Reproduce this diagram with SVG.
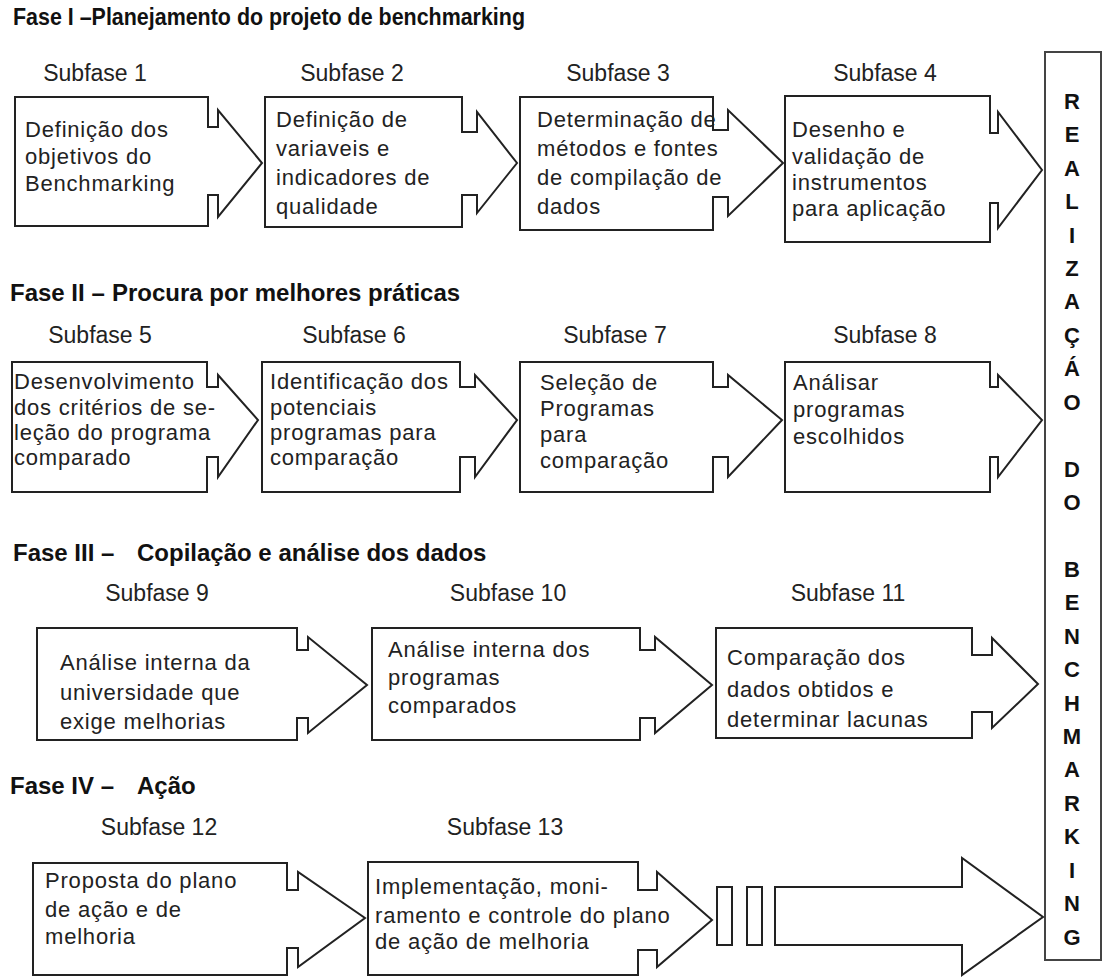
<svg xmlns="http://www.w3.org/2000/svg" width="1105" height="977" viewBox="0 0 1105 977">
<style>
.bg{fill:#ffffff}
.box{fill:#ffffff;stroke:#222;stroke-width:2;stroke-linejoin:miter}
.t{font-family:"Liberation Sans",Arial,sans-serif;font-size:22px;letter-spacing:0.8px;fill:#222}
.s{font-family:"Liberation Sans",Arial,sans-serif;font-size:23px;fill:#222;text-anchor:middle}
.h{font-family:"Liberation Sans",Arial,sans-serif;font-size:24px;font-weight:bold;fill:#111}
.v{font-family:"Liberation Sans",Arial,sans-serif;font-size:22px;font-weight:bold;fill:#111;text-anchor:middle}
.side{fill:#ffffff;stroke:#444;stroke-width:2}
</style>
<rect class="bg" x="0" y="0" width="1105" height="977"/>

<g id="titles">
<text class="h" x="13" y="25" textLength="512" lengthAdjust="spacingAndGlyphs">Fase I –Planejamento do projeto de benchmarking</text>
<text class="h" x="10" y="301">Fase II –</text>
<text class="h" x="112" y="301">Procura por melhores práticas</text>
<text class="h" x="13" y="561">Fase III –</text>
<text class="h" x="137" y="561">Copilação e análise dos dados</text>
<text class="h" x="10" y="794">Fase IV –</text>
<text class="h" x="137" y="794">Ação</text>
</g>

<g id="labels">
<text class="s" x="95" y="81">Subfase 1</text>
<text class="s" x="352" y="81">Subfase 2</text>
<text class="s" x="618" y="81">Subfase 3</text>
<text class="s" x="885" y="81">Subfase 4</text>
<text class="s" x="100" y="343">Subfase 5</text>
<text class="s" x="354" y="343">Subfase 6</text>
<text class="s" x="615" y="343">Subfase 7</text>
<text class="s" x="885" y="343">Subfase 8</text>
<text class="s" x="157" y="601">Subfase 9</text>
<text class="s" x="508" y="601">Subfase 10</text>
<text class="s" x="848" y="601">Subfase 11</text>
<text class="s" x="159" y="835">Subfase 12</text>
<text class="s" x="505" y="835">Subfase 13</text>
</g>

<g id="realizacao">
<rect class="side" x="1045" y="52" width="56" height="908"/>
<text class="v" x="1072" y="109">R</text>
<text class="v" x="1072" y="142">E</text>
<text class="v" x="1072" y="176">A</text>
<text class="v" x="1072" y="209">L</text>
<text class="v" x="1072" y="243">I</text>
<text class="v" x="1072" y="276">Z</text>
<text class="v" x="1072" y="309">A</text>
<text class="v" x="1072" y="343">Ç</text>
<text class="v" x="1072" y="376">Á</text>
<text class="v" x="1072" y="410">O</text>
<text class="v" x="1072" y="477">D</text>
<text class="v" x="1072" y="510">O</text>
<text class="v" x="1072" y="577">B</text>
<text class="v" x="1072" y="610">E</text>
<text class="v" x="1072" y="644">N</text>
<text class="v" x="1072" y="677">C</text>
<text class="v" x="1072" y="711">H</text>
<text class="v" x="1072" y="744">M</text>
<text class="v" x="1072" y="777">A</text>
<text class="v" x="1072" y="811">R</text>
<text class="v" x="1072" y="844">K</text>
<text class="v" x="1072" y="878">I</text>
<text class="v" x="1072" y="911">N</text>
<text class="v" x="1072" y="945">G</text>
</g>

<g id="subfase1">
<path class="box" d="M15,97 H208 V127 H218 V110 L262,163 L218,217 V195 H208 V226 H15 Z"/>
<text class="t" x="25" y="137">Definição dos</text>
<text class="t" x="25" y="164">objetivos do</text>
<text class="t" x="25" y="191">Benchmarking</text>
</g>
<g id="subfase2">
<path class="box" d="M265,97 H462 V132 H477 V112 L517,163 L477,213 V195 H462 V227 H265 Z"/>
<text class="t" x="276" y="127">Definição de</text>
<text class="t" x="276" y="156">variaveis e</text>
<text class="t" x="276" y="185">indicadores de</text>
<text class="t" x="276" y="214">qualidade</text>
</g>
<g id="subfase3">
<path class="box" d="M520,97 H713 V130 H728 V110 L783,163 L728,216 V197 H713 V230 H520 Z"/>
<text class="t" x="537" y="127">Determinação de</text>
<text class="t" x="537" y="156">métodos e fontes</text>
<text class="t" x="537" y="185">de compilação de</text>
<text class="t" x="537" y="214">dados</text>
</g>
<g id="subfase4">
<path class="box" d="M785,96 H990 V133 H998 V112 L1042,170 L998,228 V203 H990 V242 H785 Z"/>
<text class="t" x="792" y="137">Desenho e</text>
<text class="t" x="792" y="164">validação de</text>
<text class="t" x="792" y="190">instrumentos</text>
<text class="t" x="792" y="216">para aplicação</text>
</g>

<g id="subfase5">
<path class="box" d="M12,362 H207 V387 H218 V375 L258,420 L218,477 V457 H207 V492 H12 Z"/>
<text class="t" x="14" y="389">Desenvolvimento</text>
<text class="t" x="14" y="415">dos critérios de se-</text>
<text class="t" x="14" y="440">leção do programa</text>
<text class="t" x="14" y="465">comparado</text>
</g>
<g id="subfase6">
<path class="box" d="M262,362 H460 V387 H475 V375 L517,420 L475,477 V457 H460 V492 H262 Z"/>
<text class="t" x="270" y="389">Identificação dos</text>
<text class="t" x="270" y="415">potenciais</text>
<text class="t" x="270" y="440">programas para</text>
<text class="t" x="270" y="465">comparação</text>
</g>
<g id="subfase7">
<path class="box" d="M520,362 H713 V387 H728 V375 L782,420 L728,477 V457 H713 V492 H520 Z"/>
<text class="t" x="540" y="390">Seleção de</text>
<text class="t" x="540" y="416">Programas</text>
<text class="t" x="540" y="442">para</text>
<text class="t" x="540" y="468">comparação</text>
</g>
<g id="subfase8">
<path class="box" d="M785,362 H990 V387 H998 V375 L1042,420 L998,477 V457 H990 V492 H785 Z"/>
<text class="t" x="793" y="390">Análisar</text>
<text class="t" x="793" y="417">programas</text>
<text class="t" x="793" y="444">escolhidos</text>
</g>

<g id="subfase9">
<path class="box" d="M37,628 H297 V650 H308 V637 L367,685 L308,733 V718 H297 V740 H37 Z"/>
<text class="t" x="60" y="670">Análise interna da</text>
<text class="t" x="60" y="700">universidade que</text>
<text class="t" x="60" y="729">exige melhorias</text>
</g>
<g id="subfase10">
<path class="box" d="M372,628 H640 V650 H655 V637 L712,685 L655,733 V718 H640 V740 H372 Z"/>
<text class="t" x="388" y="657">Análise interna dos</text>
<text class="t" x="388" y="685">programas</text>
<text class="t" x="388" y="713">comparados</text>
</g>
<g id="subfase11">
<path class="box" d="M716,628 H972 V655 H992 V638 L1038,684 L992,728 V712 H972 V738 H716 Z"/>
<text class="t" x="727" y="665">Comparação dos</text>
<text class="t" x="727" y="697">dados obtidos e</text>
<text class="t" x="727" y="727">determinar lacunas</text>
</g>

<g id="subfase12">
<path class="box" d="M33,863 H287 V890 H298 V872 L365,918 L298,967 V948 H287 V975 H33 Z"/>
<text class="t" x="45" y="888">Proposta do plano</text>
<text class="t" x="45" y="917">de ação e de</text>
<text class="t" x="45" y="944">melhoria</text>
</g>
<g id="subfase13">
<path class="box" d="M368,862 H638 V890 H657 V872 L712,920 L657,967 V950 H638 V975 H368 Z"/>
<text class="t" x="375" y="894">Implementação, moni-</text>
<text class="t" x="375" y="923">ramento e controle do plano</text>
<text class="t" x="375" y="949">de ação de melhoria</text>
</g>

<g id="connectors">
<rect class="box" x="717" y="887" width="15" height="58"/>
<rect class="box" x="747" y="887" width="15" height="58"/>
<path class="box" d="M775,887 H962 V858 L1043,917 L962,975 V945 H775 Z"/>
</g>
</svg>
